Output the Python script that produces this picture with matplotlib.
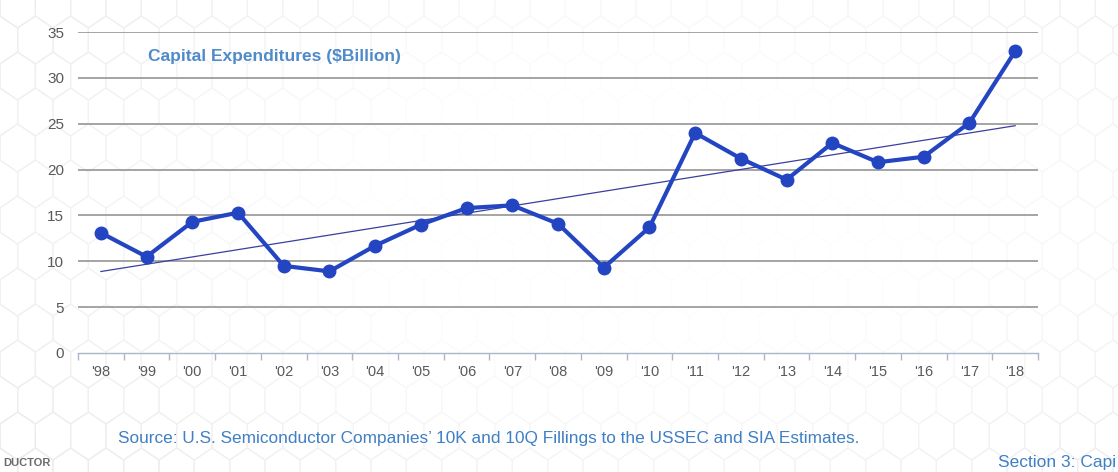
import numpy as np
import matplotlib
matplotlib.use("Agg")
import matplotlib.pyplot as plt
from matplotlib.collections import PolyCollection

years = ["'98", "'99", "'00", "'01", "'02", "'03", "'04", "'05", "'06", "'07",
         "'08", "'09", "'10", "'11", "'12", "'13", "'14", "'15", "'16", "'17", "'18"]
capex = [13.1, 10.5, 14.3, 15.3, 9.5, 8.9, 11.7, 14.0, 15.8, 16.1,
         14.1, 9.3, 13.7, 24.0, 21.2, 18.9, 22.9, 20.8, 21.4, 25.1, 32.9]
y_ticks = [0, 5, 10, 15, 20, 25, 30, 35]

title_text = "Capital Expenditures ($Billion)"
source_text = "Source: U.S. Semiconductor Companies\u2019 10K and 10Q Fillings to the USSEC and SIA Estimates."
footer_left = "DUCTOR"
footer_right = "Section 3: Capi"

plt.rcParams['font.family'] = ['Liberation Sans', 'DejaVu Sans']

W, H = 1118, 472
fig = plt.figure(figsize=(W / 100, H / 100), dpi=100)
fig.patch.set_facecolor('white')

# faint honeycomb backdrop
bg = fig.add_axes([0, 0, 1, 1], zorder=-10)
bg.set_xlim(0, W)
bg.set_ylim(0, H)
bg.axis('off')
r = 24
hexes = []
dx = np.sqrt(3) * r * 0.85
for row in range(-1, int(H / (1.5 * r)) + 2):
    for col in range(-1, int(W / dx) + 2):
        cx = col * dx + (dx / 2 if row % 2 else 0)
        cy = row * 1.5 * r
        ang = np.deg2rad(np.arange(6) * 60 + 30)
        hexes.append(np.column_stack([cx + 0.85 * r * np.cos(ang), cy + r * np.sin(ang)]))
pc = PolyCollection(hexes, facecolors='none', edgecolors='#e4e4e4', linewidths=0.9)
bg.add_collection(pc)
# soften the centre of the chart
cover = np.ones((H, W, 4))
yy, xx = np.mgrid[0:H, 0:W]
dist = np.sqrt(((xx - 640) / 470.0) ** 2 + ((yy - 260) / 230.0) ** 2)
cover[..., 3] = np.clip(1.3 - 0.6 * dist, 0, 0.95)
bg.imshow(cover, extent=[0, W, 0, H], origin='lower', zorder=2, aspect='auto')

ax = fig.add_axes([78 / W, 1 - 353 / H, (1038 - 78) / W, (353 - 32) / H])
ax.set_facecolor('none')

x = np.arange(len(years))
ax.set_xlim(-0.5, len(years) - 0.5)
ax.set_ylim(0, 35)

for v in y_ticks[1:]:
    ax.axhline(v, color='#8c8c8c', lw=1.1, zorder=1)

# least-squares linear trend
slope, intercept = np.polyfit(x, capex, 1)
ax.plot([x[0], x[-1]], [intercept + slope * x[0], intercept + slope * x[-1]],
        color='#3b3f9e', lw=0.9, zorder=2)

ax.plot(x, capex, color='#2345c2', lw=3.0, marker='o', markersize=9,
        markeredgecolor='#2345c2', zorder=3, solid_joinstyle='round')

for s in ['top', 'right', 'left']:
    ax.spines[s].set_visible(False)
ax.spines['bottom'].set_color('#a9b7c9')
ax.spines['bottom'].set_linewidth(1.0)

ax.set_yticks(y_ticks)
ax.set_yticklabels([str(v) for v in y_ticks])
ax.tick_params(axis='y', length=0, pad=10, labelsize=11, labelcolor='#595959')

ax.set_xticks(x)
ax.set_xticklabels(years)
ax.set_xticks(np.arange(len(years) + 1) - 0.5, minor=True)
ax.tick_params(axis='x', which='major', length=0, pad=9, labelsize=10.5,
               labelcolor='#595959')
ax.tick_params(axis='x', which='minor', length=5, width=1.0, color='#a9b7c9',
               direction='out')

fig.text(148 / W, 1 - 56 / H, title_text, fontsize=12.5, fontweight='bold',
         color='#4f8ac9', va='center', ha='left')

fig.text(118 / W, 1 - 439 / H, source_text, fontsize=12.4,
         color='#3f7fc4', va='center', ha='left')

fig.text(3 / W, 1 - 463 / H, footer_left, fontsize=8, fontweight='bold',
         color='#6b6b6b', va='center', ha='left')
fig.text(1116 / W, 1 - 463 / H, footer_right, fontsize=12.5,
         color='#3f7fc4', va='center', ha='right')

fig.savefig("out.png", dpi=100, facecolor='white')
